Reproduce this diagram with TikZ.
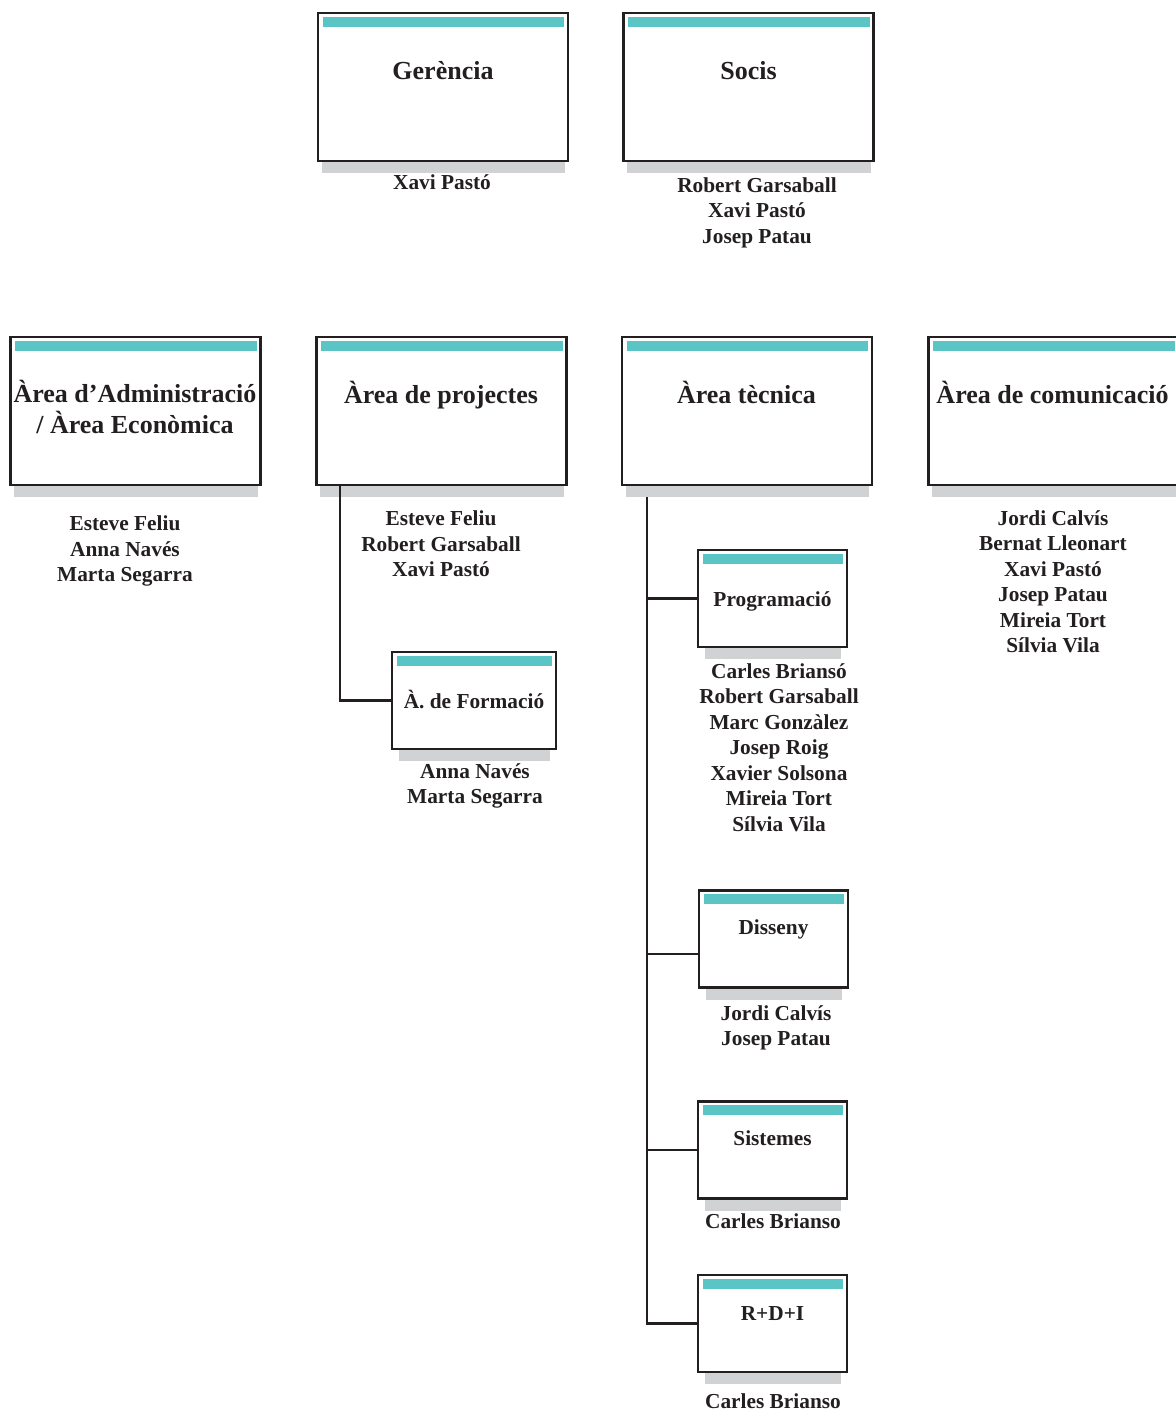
\documentclass[tikz,border=0pt]{standalone}
\usepackage{fontspec}
\setmainfont{Liberation Serif}
\usetikzlibrary{positioning,calc,backgrounds}

\definecolor{barteal}{HTML}{5BC5C6}
\definecolor{shadegrey}{HTML}{D1D2D4}
\definecolor{inkline}{HTML}{231F20}

\begin{document}
\begin{tikzpicture}[
  x=0.75pt, y=-0.75pt,
  unit/.style={rectangle, draw=inkline, line width=2.2pt, fill=white, minimum width=187.5pt, minimum height=111pt, inner sep=0pt,
    path picture={\fill[barteal] ([xshift=3.5pt,yshift=-2.8pt]path picture bounding box.north west) rectangle ([xshift=-2.8pt,yshift=-10.3pt]path picture bounding box.north east);}},
  subunit/.style={unit, minimum width=111.75pt, minimum height=72.75pt},
  ttl/.style={anchor=base, font=\fontsize{19.5}{23}\selectfont\bfseries, text=inkline, align=center, inner sep=0pt},
  subttl/.style={anchor=base, font=\fontsize{16}{19.1}\selectfont\bfseries, text=inkline, inner sep=0pt},
  names/.style={anchor=base, font=\fontsize{16}{19.1}\selectfont\bfseries, text=inkline, align=center, inner sep=0pt},
  link/.style={draw=inkline, line width=1.7pt}
]
\useasboundingbox (0,0) rectangle (1176,1416);

% Top row
\node[unit] (ger) at (443,87) {};
\node[unit] (soc) at (748.5,87) {};
\node[ttl] (gerT) at (443,80) {Gerència};
\node[ttl] (socT) at (748.5,80) {Socis};
\node[names] (gerN) at (442,190) {Xavi Pastó};
\node[names] (socN) at (757,243) {Robert Garsaball\\Xavi Pastó\\Josep Patau};

% Areas
\node[unit] (adm) at (135.5,411) {};
\node[unit] (pro) at (441.5,411) {};
\node[unit] (tec) at (747,411) {};
\node[unit] (com) at (1053.5,411) {};
\node[ttl] (admT) at (135,433.5) {Àrea d’Administració\\/ Àrea Econòmica};
\node[ttl] (proT) at (441,403) {Àrea de projectes};
\node[ttl] (tecT) at (746.5,403) {Àrea tècnica};
\node[ttl] (comT) at (1052.5,403) {Àrea de comunicació};
\node[names] (admN) at (125,581.5) {Esteve Feliu\\Anna Navés\\Marta Segarra};
\node[names] (proN) at (441,576.5) {Esteve Feliu\\Robert Garsaball\\Xavi Pastó};
\node[names] (comN) at (1053,652.5) {Jordi Calvís\\Bernat Lleonart\\Xavi Pastó\\Josep Patau\\Mireia Tort\\Sílvia Vila};

% Sub-areas
\node[subunit, minimum width=123pt] (for) at (474,700.5) {};
\node[subunit] (prog) at (772.5,598.5) {};
\node[subunit] (dis) at (773.5,939) {};
\node[subunit] (sis) at (772.5,1150) {};
\node[subunit] (rdi) at (772.5,1323.5) {};
\node[subttl] (forT) at (474,708) {À. de Formació};
\node[subttl] (progT) at (772.5,606) {Programació};
\node[subttl] (disT) at (773.5,934) {Disseny};
\node[subttl] (sisT) at (772.5,1145) {Sistemes};
\node[subttl] (rdiT) at (772.5,1320) {R+D+I};
\node[names] (forN) at (475,803.5) {Anna Navés\\Marta Segarra};
\node[names] (progN) at (779,831) {Carles Briansó\\Robert Garsaball\\Marc Gonzàlez\\Josep Roig\\Xavier Solsona\\Mireia Tort\\Sílvia Vila};
\node[names] (disN) at (776,1045.5) {Jordi Calvís\\Josep Patau};
\node[names] (sisN) at (773,1228) {Carles Brianso};
\node[names] (rdiN) at (773,1408) {Carles Brianso};

% Shadows
\begin{scope}[on background layer]
\foreach \n/\d in {ger/5,soc/5,adm/5,pro/5,tec/5,com/5,for/8,prog/8,dis/8,sis/8,rdi/8}
  \fill[shadegrey] ($(\n.south west)+(\d,0)$) rectangle ($(\n.south east)+(-\d+1,11)$);
\end{scope}

% Links
\coordinate (proS) at ($(pro.south west)+(25,0)$);
\coordinate (tecS) at (647,497);
\draw[link] (proS) |- (for.west);
\draw[link] (tecS) |- (rdi.west);
\draw[link] (prog.west -| tecS) -- (prog.west);
\draw[link] ([yshift=-11.25pt]dis.west -| tecS) -- ([yshift=-11.25pt]dis.west);
\draw[link] (sis.west -| tecS) -- (sis.west);

\end{tikzpicture}
\end{document}
